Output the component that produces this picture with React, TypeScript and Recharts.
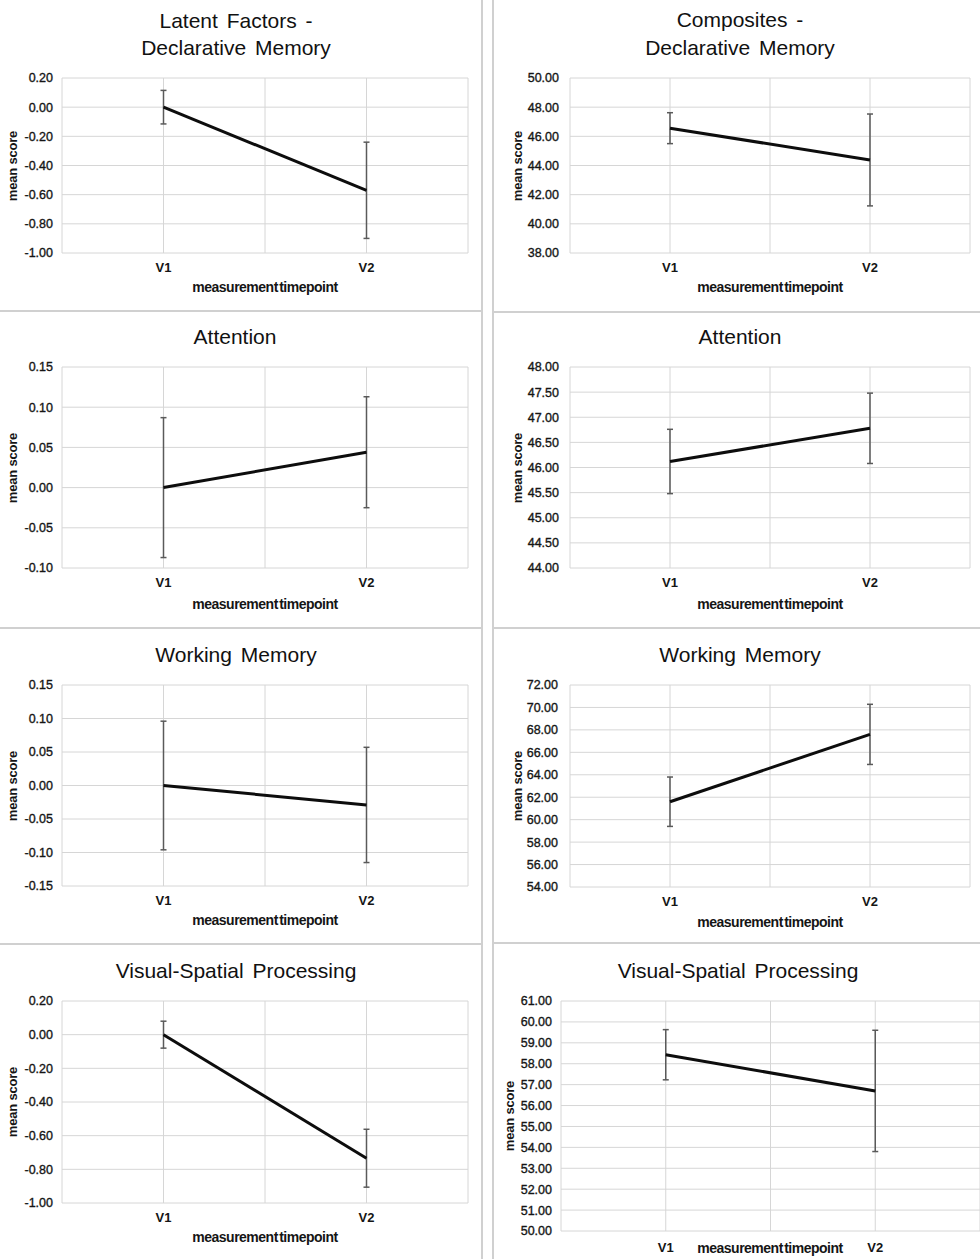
import React from "react";
import { LineChart, Line, XAxis, YAxis, CartesianGrid, ErrorBar } from "recharts";

const categories = ["V1", "V2"];

// latent factor scores (left column) and composite scores (right column)
const latentDeclMean = [0.0, -0.57];
const latentDeclErr = [0.115, 0.33];
const compDeclMean = [46.56, 44.38];
const compDeclErr = [1.06, 3.15];

const latentAttMean = [0.0, 0.044];
const latentAttErr = [0.087, 0.069];
const compAttMean = [46.12, 46.78];
const compAttErr = [0.64, 0.7];

const latentWmMean = [0.0, -0.029];
const latentWmErr = [0.096, 0.086];
const compWmMean = [61.6, 67.6];
const compWmErr = [2.2, 2.68];

const latentVsMean = [0.0, -0.734];
const latentVsErr = [0.08, 0.172];
const compVsMean = [58.43, 56.7];
const compVsErr = [1.2, 2.9];

const ticksLatentDecl = [-1, -0.8, -0.6, -0.4, -0.2, 0, 0.2];
const ticksCompDecl = [38, 40, 42, 44, 46, 48, 50];
const ticksLatentAtt = [-0.1, -0.05, 0, 0.05, 0.1, 0.15];
const ticksCompAtt = [44, 44.5, 45, 45.5, 46, 46.5, 47, 47.5, 48];
const ticksLatentWm = [-0.15, -0.1, -0.05, 0, 0.05, 0.1, 0.15];
const ticksCompWm = [54, 56, 58, 60, 62, 64, 66, 68, 70, 72];
const ticksLatentVs = [-1, -0.8, -0.6, -0.4, -0.2, 0, 0.2];
const ticksCompVs = [50, 51, 52, 53, 54, 55, 56, 57, 58, 59, 60, 61];

const FONT = "'Liberation Sans', Arial, sans-serif";
const TEXT = "#151515";
const GRID = "#d6d6d6";

type Panel = {
  title: string[];
  mean: number[];
  err: number[];
  ticks: number[];
  left: number;
  top: number;
  width: number;
  height: number;
  plot: [number, number, number, number];
  titleX: number;
  titleY: number[];
  yLabelX: number;
  xTitleX: number;
  xTitleY: number;
  tickGap: number;
  xTickGap?: number;
};

const panels: Panel[] = [
  {
    title: ["Latent Factors -", "Declarative Memory"],
    mean: latentDeclMean, err: latentDeclErr, ticks: ticksLatentDecl,
    left: 0, top: 0, width: 482, height: 311,
    plot: [62, 468, 78, 253],
    titleX: 236, titleY: [21, 48], yLabelX: 13, xTitleX: 265, xTitleY: 287, tickGap: 9,
  },
  {
    title: ["Composites -", "Declarative Memory"],
    mean: compDeclMean, err: compDeclErr, ticks: ticksCompDecl,
    left: 493, top: 0, width: 487, height: 312,
    plot: [570, 970, 78, 253],
    titleX: 740, titleY: [20, 48], yLabelX: 518, xTitleX: 770, xTitleY: 287, tickGap: 11,
  },
  {
    title: ["Attention"],
    mean: latentAttMean, err: latentAttErr, ticks: ticksLatentAtt,
    left: 0, top: 311, width: 482, height: 317,
    plot: [62, 468, 367, 568],
    titleX: 235, titleY: [337], yLabelX: 13, xTitleX: 265, xTitleY: 604, tickGap: 9,
  },
  {
    title: ["Attention"],
    mean: compAttMean, err: compAttErr, ticks: ticksCompAtt,
    left: 493, top: 312, width: 487, height: 316,
    plot: [570, 970, 367, 568],
    titleX: 740, titleY: [337], yLabelX: 518, xTitleX: 770, xTitleY: 604, tickGap: 11,
  },
  {
    title: ["Working Memory"],
    mean: latentWmMean, err: latentWmErr, ticks: ticksLatentWm,
    left: 0, top: 628, width: 482, height: 316,
    plot: [62, 468, 685, 886],
    titleX: 236, titleY: [655], yLabelX: 13, xTitleX: 265, xTitleY: 920, tickGap: 9,
  },
  {
    title: ["Working Memory"],
    mean: compWmMean, err: compWmErr, ticks: ticksCompWm,
    left: 493, top: 628, width: 487, height: 315,
    plot: [570, 970, 685, 887],
    titleX: 740, titleY: [655], yLabelX: 518, xTitleX: 770, xTitleY: 922, tickGap: 12,
  },
  {
    title: ["Visual-Spatial Processing"],
    mean: latentVsMean, err: latentVsErr, ticks: ticksLatentVs,
    left: 0, top: 944, width: 482, height: 315,
    plot: [62, 468, 1001, 1203],
    titleX: 236, titleY: [971], yLabelX: 13, xTitleX: 265, xTitleY: 1237, tickGap: 9,
  },
  {
    title: ["Visual-Spatial Processing"],
    mean: compVsMean, err: compVsErr, ticks: ticksCompVs,
    left: 493, top: 943, width: 487, height: 316,
    plot: [561, 980, 1001, 1231],
    titleX: 738, titleY: [971], yLabelX: 510, xTitleX: 770, xTitleY: 1248, tickGap: 9, xTickGap: 12,
  },
];

function vLabel(v: number) {
  if (v === 0.5) return categories[0];
  if (v === 1.5) return categories[1];
  return "";
}

function Chart({ p }: { p: Panel }) {
  const data = categories.map((c, i) => ({ x: i + 0.5, name: c, mean: p.mean[i], err: p.err[i] }));
  const [x1, x2, y1, y2] = p.plot;
  const yAxisW = 44;
  const below = p.top + p.height - y2;
  const xAxisH = Math.min(30, below);
  const margin = {
    top: y1 - p.top,
    bottom: below - xAxisH,
    left: x1 - p.left - yAxisW,
    right: p.left + p.width - x2,
  };
  const lo = p.ticks[0];
  const hi = p.ticks[p.ticks.length - 1];

  return (
    <>
      <div style={{ position: "absolute", left: p.left, top: p.top }}>
        <LineChart width={p.width} height={p.height} data={data} margin={margin}>
          <CartesianGrid stroke={GRID} strokeWidth={1} />
          <XAxis
            dataKey="x"
            type="number"
            domain={[0, 2]}
            ticks={[0, 0.5, 1, 1.5, 2]}
            interval={0}
            tickFormatter={vLabel}
            axisLine={false}
            tickLine={false}
            tickSize={0}
            tickMargin={p.xTickGap ?? 10}
            height={xAxisH}
            tick={{ fill: TEXT, fontSize: 13, fontWeight: "bold", fontFamily: FONT }}
          />
          <YAxis
            type="number"
            domain={[lo, hi]}
            ticks={p.ticks}
            interval={0}
            allowDataOverflow
            tickFormatter={(v: number) => v.toFixed(2)}
            axisLine={false}
            tickLine={false}
            tickSize={0}
            tickMargin={p.tickGap}
            width={yAxisW}
            tick={{ fill: TEXT, stroke: TEXT, strokeWidth: 0.35, fontSize: 12.5, fontFamily: FONT }}
          />
          <Line
            dataKey="mean"
            stroke="#0d0d0d"
            strokeWidth={3}
            dot={false}
            activeDot={false}
            isAnimationActive={false}
          >
            <ErrorBar dataKey="err" width={3} stroke="#5a5a5a" strokeWidth={1.5} direction="y" />
          </Line>
        </LineChart>
      </div>
      {p.title.map((t, i) => (
        <div
          key={t}
          style={{
            position: "absolute",
            left: p.titleX - 200,
            width: 400,
            top: p.titleY[i] - 13,
            height: 26,
            lineHeight: "26px",
            textAlign: "center",
            fontFamily: FONT,
            fontSize: 21,
            wordSpacing: 3,
            color: "#111",
          }}
        >
          {t}
        </div>
      ))}
      <div
        style={{
          position: "absolute",
          left: p.yLabelX - 60,
          top: (y1 + y2) / 2 - 8,
          width: 120,
          height: 16,
          lineHeight: "16px",
          textAlign: "center",
          transform: "rotate(-90deg)",
          fontFamily: FONT,
          fontWeight: "bold",
          fontSize: 13,
          letterSpacing: -0.2,
          color: TEXT,
        }}
      >
        mean score
      </div>
      <div
        style={{
          position: "absolute",
          left: p.xTitleX - 120,
          top: p.xTitleY - 9,
          width: 240,
          height: 18,
          lineHeight: "18px",
          textAlign: "center",
          fontFamily: FONT,
          fontWeight: "bold",
          fontSize: 14,
          letterSpacing: -0.5,
          wordSpacing: -2,
          color: TEXT,
        }}
      >
        measurement timepoint
      </div>
    </>
  );
}

const line = (l: number, t: number, w: number, h: number) => (
  <div style={{ position: "absolute", left: l, top: t, width: w, height: h, background: "#d0d0d0" }} />
);

export default function App() {
  return (
    <div
      style={{
        position: "absolute",
        left: 0,
        top: 0,
        width: 980,
        height: 1259,
        background: "#fff",
        overflow: "hidden",
      }}
    >
      {line(481, 0, 2, 1259)}
      {line(492, 0, 2, 1259)}
      {line(0, 310, 482, 2)}
      {line(493, 311, 487, 2)}
      {line(0, 627, 482, 2)}
      {line(493, 627, 487, 2)}
      {line(0, 943, 482, 2)}
      {line(493, 942, 487, 2)}
      {panels.map((p, i) => (
        <Chart key={i} p={p} />
      ))}
    </div>
  );
}
